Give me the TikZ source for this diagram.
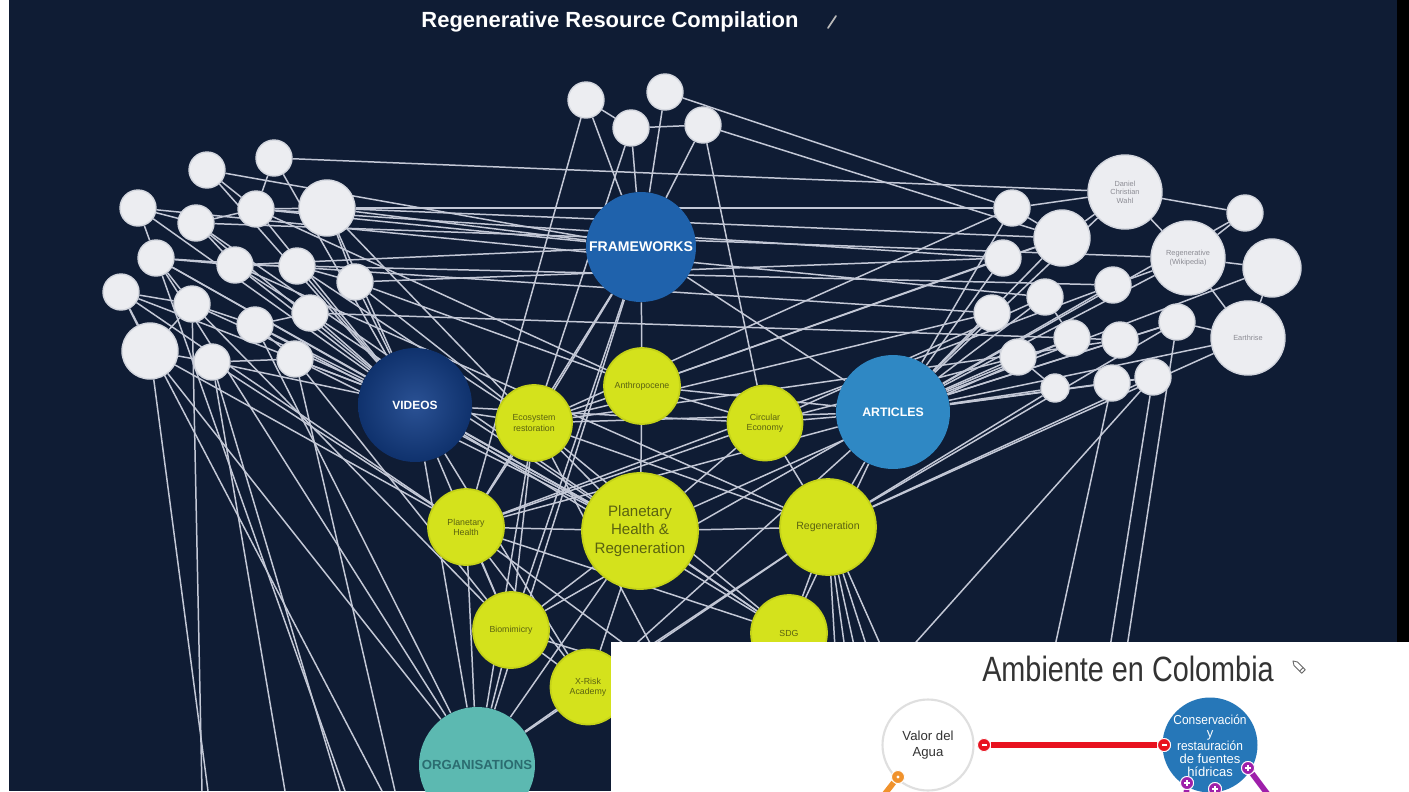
\documentclass[tikz,border=0pt]{standalone}
\usepackage{fontspec}
\setmainfont{Liberation Sans}
\usetikzlibrary{calc}
\definecolor{bgc}{HTML}{0F1C34}
\definecolor{edgec}{HTML}{C3C8D6}
\definecolor{wfill}{HTML}{ECEDF1}
\definecolor{wedge}{HTML}{D3D6DE}
\definecolor{wtext}{HTML}{8C8C94}
\definecolor{ylw}{HTML}{D4E21C}
\definecolor{ylwedge}{HTML}{C4D218}
\definecolor{ytext}{HTML}{5A6210}
\definecolor{fwblue}{HTML}{1F62AC}
\definecolor{vidblue}{HTML}{133E88}
\definecolor{artblue}{HTML}{2F88C4}
\definecolor{orgteal}{HTML}{5CB9B1}
\definecolor{orgtext}{HTML}{2B6C70}
\definecolor{conblue}{HTML}{2677B8}
\definecolor{redc}{HTML}{E8121F}
\definecolor{orangec}{HTML}{F0922C}
\definecolor{purplec}{HTML}{9E1FAA}
\definecolor{titlegray}{HTML}{333333}
\pgfdeclarelayer{bglayer}
\pgfdeclarelayer{edgelayer}
\pgfdeclarelayer{fg}
\pgfsetlayers{bglayer,edgelayer,main,fg}
\tikzset{
  wnode/.style={circle, fill=wfill, draw=wedge, line width=0.8pt, inner sep=0pt,
    align=center, text=wtext, font=\fontsize{4.2}{4.8}\selectfont},
  wsmall/.style={wnode, minimum size=0.72cm},
  wmid/.style={wnode, minimum size=1.12cm},
  wbig/.style={wnode, minimum size=1.48cm},
  ynode/.style={circle, fill=ylw, draw=ylwedge, line width=1pt, inner sep=0pt,
    minimum size=1.52cm, align=center, text=ytext, font=\fontsize{5}{5.8}\selectfont},
  catnode/.style={circle, inner sep=0pt, minimum size=2.28cm, align=center,
    text=white, font=\bfseries\fontsize{7}{8}\selectfont},
  ed/.style={draw=edgec, line width=0.85pt},
  dotbase/.style={circle, inner sep=0pt, minimum size=0.26cm, draw=white, line width=0.5pt},
  redline/.style={draw=redc, line width=3.2pt},
  orangeline/.style={draw=orangec, line width=3.2pt},
  purpleline/.style={draw=purplec, line width=3.2pt}
}
\begin{document}
\begin{tikzpicture}[x=0.02cm,y=-0.02cm]
\useasboundingbox (0,0) rectangle (1409,791);
\begin{pgfonlayer}{bglayer}
  \fill[bgc] (0,0) rectangle (1409,791);
  \fill[white] (0,0) rectangle (9,791);
  \fill[black] (1397,0) rectangle (1409,642);
\end{pgfonlayer}

% title
\node[text=white, font=\bfseries\fontsize{12.5}{14}\selectfont] (title) at (610,22) {Regenerative Resource Compilation};
\draw[gray!55, line width=1pt, line cap=round] (828,28) -- (836,16);

% top cluster
\node[wsmall] (t1) at (586,100) {};
\node[wsmall] (t2) at (665,92) {};
\node[wsmall] (t3) at (631,128) {};
\node[wsmall] (t4) at (703,125) {};
% categories
\node[catnode, fill=fwblue, minimum size=2.2cm, font=\bfseries\fontsize{8}{9}\selectfont] (FW) at (641,247) {FRAMEWORKS};
\node[catnode, inner color=vidblue!90!white, outer color=vidblue!80!black, font=\bfseries\fontsize{6.8}{8}\selectfont] (VID) at (415,405) {VIDEOS};
\node[catnode, fill=artblue] (ART) at (893,412) {ARTICLES};
\node[catnode, fill=orgteal, minimum size=2.32cm, text=orgtext, font=\bfseries\fontsize{7.5}{8}\selectfont] (ORG) at (477,765) {ORGANISATIONS};
% left cluster
\node[wsmall] (l1) at (274,158) {};
\node[wsmall] (l2) at (207,170) {};
\node[wsmall] (l3) at (138,208) {};
\node[wsmall] (l4) at (196,223) {};
\node[wsmall] (l5) at (256,209) {};
\node[wmid] (l6) at (327,208) {};
\node[wsmall] (l7) at (156,258) {};
\node[wsmall] (l8) at (235,265) {};
\node[wsmall] (l9) at (297,266) {};
\node[wsmall] (l10) at (121,292) {};
\node[wsmall] (l11) at (192,304) {};
\node[wsmall] (l12) at (255,325) {};
\node[wsmall] (l13) at (310,313) {};
\node[wsmall] (l14) at (355,282) {};
\node[wmid] (l15) at (150,351) {};
\node[wsmall] (l16) at (212,362) {};
\node[wsmall] (l17) at (295,359) {};
% right cluster
\node[wbig] (r1) at (1125,192) {Daniel\\Christian\\Wahl};
\node[wsmall] (r2) at (1012,208) {};
\node[wmid] (r3) at (1062,238) {};
\node[wsmall] (r4) at (1245,213) {};
\node[wsmall] (r5) at (1003,258) {};
\node[wbig] (r6) at (1188,258) {Regenerative\\(Wikipedia)};
\node[wmid, minimum size=1.16cm] (r7) at (1272,268) {};
\node[wsmall] (r8) at (1113,285) {};
\node[wsmall] (r9) at (1045,297) {};
\node[wsmall] (r10) at (992,313) {};
\node[wsmall] (r11) at (1177,322) {};
\node[wbig] (r12) at (1248,338) {Earthrise};
\node[wsmall] (r13) at (1072,338) {};
\node[wsmall] (r14) at (1120,340) {};
\node[wsmall] (r15) at (1018,357) {};
\node[wsmall, minimum size=0.56cm] (r16) at (1055,388) {};
\node[wsmall] (r17) at (1112,383) {};
\node[wsmall] (r18) at (1153,377) {};
% yellow topics
\node[ynode] (AN) at (642,386) {Anthropocene};
\node[ynode] (ECO) at (534,423) {Ecosystem\\restoration};
\node[ynode, minimum size=1.5cm] (CE) at (765,423) {Circular\\Economy};
\node[ynode, minimum size=2.32cm, font=\fontsize{8.6}{10.5}\selectfont] (PHR) at (640,531) {Planetary\\Health \&\\Regeneration};
\node[ynode] (PH) at (466,527) {Planetary\\Health};
\node[ynode, minimum size=1.92cm, font=\fontsize{6}{7}\selectfont] (REG) at (828,527) {Regeneration};
\node[ynode] (BIO) at (511,630) {Biomimicry};
\node[ynode] (SDG) at (789,633) {SDG};
\node[ynode, minimum size=1.5cm] (XR) at (588,687) {X-Risk\\Academy};

% free ends
\coordinate (b1) at (208,791);
\coordinate (b2) at (202,791);
\coordinate (b3) at (285,791);
\coordinate (b4) at (340,791);
\coordinate (b5) at (382,791);
\coordinate (b6) at (395,791);
\coordinate (b7) at (345,791);
\coordinate (c1) at (1052,660);
\coordinate (c2) at (900,660);
\coordinate (c3) at (1108,660);
\coordinate (c4) at (1125,660);
\coordinate (d1) at (838,700);
\coordinate (d2) at (852,700);
\coordinate (d3) at (866,700);
\coordinate (d4) at (884,700);
\coordinate (d5) at (905,700);
\coordinate (d6) at (700,700);
\coordinate (d7) at (740,700);
\coordinate (d8) at (680,700);

\begin{pgfonlayer}{edgelayer}
\foreach \a/\b in {
  t1/t3, t3/t4, t1/FW, t3/FW, t2/FW, t4/FW, t2/r2, t4/r3, t3/ECO, t1/PH, t4/CE,
  l1/r1, l6/r2, l6/r3, l5/r5, l4/r6, l3/r9, l7/r10, l9/r8, l14/r5, l2/FW, l8/FW, l5/FW, l6/FW, l13/r13,
  l2/l5, l3/l4, l4/l5, l3/l7, l4/l8, l5/l6, l7/l8, l8/l9, l10/l11, l11/l12, l7/l11, l8/l13,
  l12/l13, l9/l14, l6/l14, l11/l15, l15/l16, l16/l17, l12/l17, l1/l5, l10/l15,
  l3/VID, l4/VID, l5/VID, l6/VID, l7/VID, l8/VID, l9/VID, l10/VID, l11/VID, l12/VID,
  l13/VID, l14/VID, l16/VID, l17/VID, l2/VID, l1/VID,
  l6/ECO, l9/ECO, l14/ECO, l13/PHR, l12/PHR, l17/PHR, l10/PH, l15/PH, l16/PH, l11/BIO,
  l7/PHR, l17/BIO, l14/AN, l5/AN, l8/REG, l4/SDG,
  l15/b1, l11/b2, l16/b3, l16/b4, l10/b5, l17/b6, l7/b7, l7/ORG, l12/ORG, l15/ORG,
  VID/ECO, VID/PHR, VID/SDG, VID/ORG, VID/XR, VID/BIO, VID/CE,
  FW/AN, FW/ECO, FW/PH, FW/BIO, FW/ART, FW/ORG,
  AN/PHR, AN/ECO, AN/CE, AN/ART, ECO/PHR, ECO/PH, ECO/BIO, ECO/ORG, ECO/SDG, ECO/REG,
  ECO/ART, CE/REG, CE/PHR, CE/PH, CE/ART, PH/PHR, PH/BIO, PH/ORG, PH/XR, PH/SDG,
  PHR/REG, PHR/BIO, PHR/XR, PHR/SDG, PHR/ORG, REG/SDG, REG/ART, REG/XR, REG/ORG,
  BIO/ORG, BIO/XR, XR/ORG, SDG/XR, PH/d6, BIO/d7, ECO/d8,
  r1/r4, r1/r6, r4/r6, r6/r7, r6/r12, r7/r12, r1/r3, r2/r3, r3/r5, r8/r6, r9/r13,
  r13/r14, r14/r11, r11/r12, r17/r18, r15/r16, r2/r1,
  r2/ART, r3/ART, r5/ART, r6/ART, r8/ART, r9/ART, r10/ART, r11/ART, r12/ART, r13/ART,
  r14/ART, r15/ART, r16/ART, r17/ART, r18/ART, r1/ART, r7/ART, r4/ART,
  r10/ECO, r5/AN, r9/CE, r15/CE, r13/PHR, r16/REG, r8/PH, r12/REG, r11/REG, r2/ECO, r3/AN,
  r14/ECO, r18/REG,
  r17/c1, r18/c2, r18/c3, r11/c4,
  REG/d1, REG/d2, REG/d3, REG/d4, REG/d5, ART/BIO, ART/PH, ART/XR, ART/SDG}
  \draw[ed] (\a) -- (\b);
\end{pgfonlayer}

% overlay screenshot
\begin{pgfonlayer}{fg}
  \fill[white] (611,642) rectangle (1409,791);
  \begin{scope}
    \clip (611,642) rectangle (1409,791);
    \node[text=titlegray, font=\fontsize{20}{22}\selectfont] (ovtitle) at (1128,669)
      {\scalebox{0.82}[1]{Ambiente en Colombia}};
    % pencil icon
    \begin{scope}[shift={(1300,668)}, rotate=-45]
      \draw[gray!80!black, line width=0.5pt, line join=round]
        (-6,-2.5) -- (5,-2.5) -- (5,2.5) -- (-6,2.5) -- (-10,0) -- cycle;
      \draw[gray!80!black, line width=0.5pt] (2,-2.5) -- (2,2.5);
    \end{scope}
    % nodes
    \node[circle, minimum size=1.82cm, inner sep=0pt, fill=white, draw=gray!25, line width=1.2pt,
      align=center, text=titlegray, font=\fontsize{7.5}{9}\selectfont] (vda) at (928,745)
      {Valor del\\Agua};
    \node[circle, minimum size=1.9cm, inner sep=0pt, fill=conblue] (cons) at (1210,745) {};
    \begin{scope}
      \clip (1210,745) circle (47.5);
      \node[text=white, align=center, font=\fontsize{7.4}{7.4}\selectfont, inner sep=0pt]
        (constext) at (1210,746) {\scalebox{0.92}[1]{Conservación}\\y\\\scalebox{0.92}[1]{restauración}\\de fuentes\\hídricas};
    \end{scope}
    % connectors
    \node[dotbase, fill=redc] (rd1) at (984,745) {};
    \node[dotbase, fill=redc] (rd2) at (1164,745) {};
    \draw[redline] (rd1) -- (rd2);
    \node[dotbase, fill=redc] (rd1b) at (rd1) {};
    \node[dotbase, fill=redc] (rd2b) at (rd2) {};
    \draw[white, line width=0.8pt] ($(rd1b)+(-2.5,0)$) -- ($(rd1b)+(2.5,0)$);
    \draw[white, line width=0.8pt] ($(rd2b)+(-2.5,0)$) -- ($(rd2b)+(2.5,0)$);
    \coordinate (oend) at (880,800);
    \node[dotbase, fill=orangec] (od) at (898,777) {};
    \draw[orangeline] (od) -- (oend);
    \node[dotbase, fill=orangec] (od2) at (od) {};
    \fill[white] (od2) circle (1.6);
    \coordinate (pend1) at (1272,800);
    \coordinate (pend2) at (1186,800);
    \coordinate (pend3) at (1215,800);
    \node[dotbase, fill=purplec] (pd1) at (1248,768) {};
    \node[dotbase, fill=purplec] (pd2) at (1187,783) {};
    \node[dotbase, fill=purplec] (pd3) at (1215,789) {};
    \draw[purpleline] (pd1) -- (pend1);
    \draw[purpleline] (pd2) -- (pend2);
    \draw[purpleline] (pd3) -- (pend3);
    \foreach \p in {pd1,pd2,pd3}{
      \node[dotbase, fill=purplec] at (\p) {};
      \draw[white, line width=0.8pt] ($(\p)+(-2.8,0)$) -- ($(\p)+(2.8,0)$);
      \draw[white, line width=0.8pt] ($(\p)+(0,-2.8)$) -- ($(\p)+(0,2.8)$);
    }
  \end{scope}
\end{pgfonlayer}
\end{tikzpicture}
\end{document}
